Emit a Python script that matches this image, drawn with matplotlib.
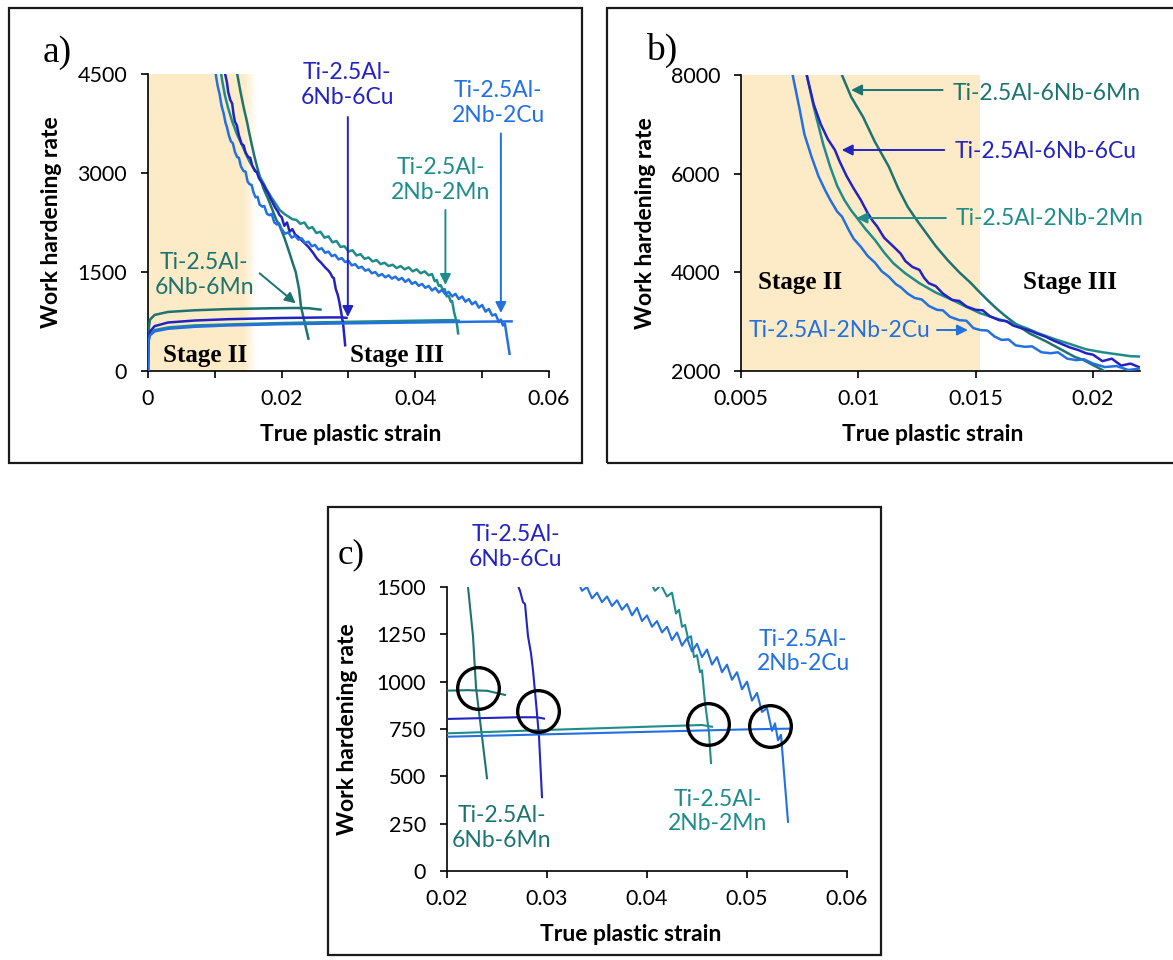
"""
Work hardening rate vs true plastic strain for four Ti-2.5Al alloys,
three panels: a) full range, b) stage II zoom, c) Considere intersections.
Writes out.png.
"""
import numpy as np
import matplotlib
matplotlib.use("Agg")
import matplotlib.pyplot as plt
from matplotlib.patches import Rectangle

W, H = 1173, 960

C_6MN = "#1d7370"
C_2MN = "#1f8c8c"
C_6CU = "#2323c2"
C_2CU = "#2370e0"
SHADE = "#fdebc7"

SANS = ["Lato", "DejaVu Sans"]
SERIF = ["Liberation Serif", "DejaVu Serif"]

# ---- work hardening rate curves (strain, dsigma/deps) ----
eps_h_6mn = [0.0090, 0.0093, 0.0097, 0.0102, 0.0107, 0.0113, 0.0117, 0.0121, 0.0125,
             0.0129, 0.0133, 0.0138, 0.0143, 0.0148, 0.0151, 0.0155, 0.0159, 0.0163,
             0.0168, 0.0173, 0.0180, 0.0187, 0.0192, 0.0196, 0.0200, 0.0204, 0.0208,
             0.0212, 0.0217, 0.0221, 0.0226, 0.0229, 0.0235, 0.0240]
th_h_6mn = [9000, 8000, 7550, 7150, 6650, 6140, 5700, 5330, 5050,
            4790, 4530, 4250, 4000, 3780, 3630, 3440, 3260, 3100,
            2920, 2760, 2600, 2420, 2290, 2220, 2120, 2020, 1900,
            1780, 1620, 1500, 1240, 970, 710, 490]

eps_h_6cu = [0.0076, 0.0078, 0.0081, 0.0084, 0.0087, 0.0090, 0.0092, 0.0095, 0.0098,
             0.0101, 0.0104, 0.0106, 0.0108, 0.0111, 0.0115, 0.0118, 0.0120, 0.0123,
             0.0126, 0.0128, 0.0130, 0.0133, 0.0136, 0.0140, 0.0143, 0.0146, 0.0150,
             0.0153, 0.0156, 0.0160, 0.0163, 0.0166, 0.0170, 0.0173, 0.0176, 0.0180,
             0.0183, 0.0186, 0.0190, 0.0194, 0.0197, 0.0200, 0.0204, 0.0208, 0.0212,
             0.0216, 0.0220, 0.0225, 0.0232, 0.0240, 0.0247, 0.0253, 0.0259, 0.0265,
             0.0270, 0.0273, 0.0276, 0.0278, 0.0281, 0.0284, 0.0286, 0.0289, 0.0292,
             0.0295]
th_h_6cu = [9000, 8000, 7400, 7000, 6700, 6480, 6250, 5950, 5700,
            5470, 5200, 5050, 4930, 4700, 4520, 4380, 4230, 4110,
            4050, 3890, 3780, 3720, 3570, 3440, 3420, 3310, 3240,
            3230, 3110, 3030, 3010, 2920, 2860, 2820, 2760, 2690,
            2620, 2560, 2480, 2420, 2360, 2330, 2200, 2250, 2110,
            2150, 2070, 2030, 1960, 1880, 1790, 1700, 1640, 1570,
            1520, 1480, 1420, 1410, 1240, 1150, 1060, 890, 710,
            390]

eps_h_2mn = [0.0075, 0.0078, 0.0081, 0.0085, 0.0088, 0.0091, 0.0094, 0.0097, 0.0099,
             0.0103, 0.0107, 0.0111, 0.0115, 0.0120, 0.0126, 0.0133, 0.0140, 0.0146,
             0.0152, 0.0159, 0.0166, 0.0172, 0.0177, 0.0184, 0.0190, 0.0197, 0.0204,
             0.0210, 0.0216, 0.0222, 0.0228, 0.0234, 0.0240, 0.0246, 0.0252, 0.0258,
             0.0264, 0.0270, 0.0276, 0.0282, 0.0288, 0.0294, 0.0300, 0.0306, 0.0312,
             0.0318, 0.0324, 0.0330, 0.0336, 0.0342, 0.0348, 0.0354, 0.0360, 0.0366,
             0.0372, 0.0378, 0.0384, 0.0390, 0.0396, 0.0402, 0.0408, 0.0414, 0.0420,
             0.0425, 0.0429, 0.0432, 0.0435, 0.0438, 0.0441, 0.0444, 0.0447, 0.0450,
             0.0453, 0.0455, 0.0458, 0.0462, 0.0464]
th_h_2mn = [9000, 8000, 7350, 6600, 6140, 5750, 5470, 5250, 5130,
            4880, 4660, 4400, 4180, 3980, 3780, 3590, 3440, 3300,
            3170, 3060, 2970, 2860, 2760, 2640, 2550, 2440, 2380,
            2340, 2300, 2290, 2230, 2250, 2160, 2180, 2090, 2110,
            2020, 2040, 1950, 1970, 1880, 1890, 1810, 1830, 1750,
            1770, 1700, 1720, 1660, 1680, 1620, 1640, 1590, 1610,
            1560, 1590, 1540, 1570, 1510, 1540, 1480, 1510, 1450,
            1470, 1360, 1380, 1290, 1300, 1230, 1240, 1130, 1140,
            1050, 1060, 890, 730, 570]

eps_h_2cu = [0.0069, 0.0072, 0.0075, 0.0077, 0.0080, 0.0083, 0.0086, 0.0088, 0.0091,
             0.0093, 0.0096, 0.0098, 0.0101, 0.0104, 0.0107, 0.0110, 0.0113, 0.0116,
             0.0118, 0.0121, 0.0124, 0.0127, 0.0130, 0.01335, 0.0136, 0.0139, 0.0143,
             0.0146, 0.0149, 0.0152, 0.0155, 0.0158, 0.0161, 0.0164, 0.0167, 0.0171,
             0.0174, 0.0178, 0.0182, 0.0185, 0.0189, 0.0193, 0.0196, 0.0200, 0.0205,
             0.0210, 0.0215, 0.0220, 0.0225, 0.0230, 0.0235, 0.0240, 0.0245, 0.0250,
             0.0255, 0.0260, 0.0265, 0.0270, 0.0275, 0.0280, 0.0285, 0.0290, 0.0295,
             0.0300, 0.0305, 0.0310, 0.0315, 0.0320, 0.0325, 0.0330, 0.0335, 0.0340,
             0.0345, 0.0350, 0.0355, 0.0360, 0.0365, 0.0370, 0.0375, 0.0380, 0.0385,
             0.0390, 0.0395, 0.0400, 0.0405, 0.0410, 0.0415, 0.0420, 0.0425, 0.0430,
             0.0435, 0.0440, 0.0445, 0.0450, 0.0455, 0.0460, 0.0465, 0.0470, 0.0475,
             0.0480, 0.0485, 0.0490, 0.0495, 0.0500, 0.0505, 0.0510, 0.0515, 0.0520,
             0.0525, 0.0528, 0.0531, 0.0534, 0.0537, 0.0541]
th_h_2cu = [9000, 8000, 7300, 6800, 6350, 5950, 5650, 5470, 5230,
            5130, 4850, 4680, 4520, 4330, 4200, 4020, 3910, 3760,
            3700, 3570, 3480, 3450, 3320, 3240, 3230, 3100, 3030,
            3020, 2870, 2830, 2820, 2700, 2630, 2640, 2520, 2490,
            2500, 2380, 2360, 2380, 2250, 2220, 2240, 2150, 2080,
            2100, 2020, 2050, 1990, 2010, 1940, 1960, 1890, 1910,
            1840, 1860, 1790, 1810, 1740, 1760, 1690, 1710, 1650,
            1670, 1600, 1620, 1560, 1580, 1520, 1540, 1480, 1500,
            1440, 1470, 1420, 1450, 1400, 1430, 1380, 1410, 1350,
            1390, 1320, 1350, 1290, 1320, 1260, 1290, 1220, 1260,
            1190, 1230, 1160, 1200, 1130, 1170, 1090, 1130, 1050,
            1090, 1010, 1050, 960, 1000, 900, 940, 840, 860,
            740, 780, 690, 720, 520, 260]

# ---- true stress curves (strain, MPa) ----
eps_s_6mn = [0.0, 0.00005, 0.0003, 0.001, 0.003, 0.007, 0.012, 0.018, 0.022, 0.024, 0.0258]
sig_s_6mn = [0, 600, 780, 850, 895, 920, 938, 950, 955, 952, 930]
eps_s_6cu = [0.0, 0.00005, 0.0003, 0.001, 0.003, 0.007, 0.012, 0.020, 0.027, 0.029, 0.0297]
sig_s_6cu = [0, 480, 600, 680, 735, 765, 785, 803, 812, 812, 805]
eps_s_2mn = [0.0, 0.00005, 0.0003, 0.001, 0.003, 0.007, 0.012, 0.020, 0.030, 0.040, 0.0455, 0.0465]
sig_s_2mn = [0, 450, 560, 620, 660, 690, 705, 727, 745, 762, 771, 762]
eps_s_2cu = [0.0, 0.00005, 0.0003, 0.001, 0.003, 0.007, 0.012, 0.020, 0.030, 0.040, 0.050, 0.0544]
sig_s_2cu = [0, 430, 540, 600, 640, 670, 690, 709, 722, 735, 748, 752]

# Considere intersection points circled in c)
circ_eps = [0.0231, 0.0291, 0.0461, 0.0523]
circ_val = [965, 847, 776, 766]

series = [
    (eps_h_6mn, th_h_6mn, eps_s_6mn, sig_s_6mn, C_6MN),
    (eps_h_2mn, th_h_2mn, eps_s_2mn, sig_s_2mn, C_2MN),
    (eps_h_6cu, th_h_6cu, eps_s_6cu, sig_s_6cu, C_6CU),
    (eps_h_2cu, th_h_2cu, eps_s_2cu, sig_s_2cu, C_2CU),
]

plt.rcParams["font.family"] = SANS

fig = plt.figure(figsize=(W / 100, H / 100), dpi=100)


def px_axes(l, t, r, b):
    return fig.add_axes([l / W, 1 - b / H, (r - l) / W, (b - t) / H])


def frame(l, t, r, b):
    fig.add_artist(Rectangle((l / W, 1 - b / H), (r - l) / W, (b - t) / H,
                             transform=fig.transFigure, fill=False,
                             lw=1.6, ec="#1a1a1a", zorder=10))


def style(ax):
    for s in ("top", "right"):
        ax.spines[s].set_visible(False)
    for s in ("left", "bottom"):
        ax.spines[s].set_linewidth(1.2)
    ax.tick_params(which="both", direction="out", length=5, width=1.2,
                   labelsize=15.5)
    ax.tick_params(axis="x", which="both", pad=8)
    ax.tick_params(axis="y", pad=10)
    ax.set_xlabel("True plastic strain", fontsize=16.5, fontweight="bold")
    ax.set_ylabel("Work hardening rate", fontsize=16.5, fontweight="bold")
    ax.xaxis.label.set_va("center")
    ax.yaxis.label.set_va("center")


def arrow(ax, tail, head, color):
    ax.annotate("", xy=head, xytext=tail,
                arrowprops=dict(arrowstyle="-|>", color=color, lw=1.4,
                                mutation_scale=16, shrinkA=0, shrinkB=0),
                annotation_clip=False)


frame(9, 8, 582, 463)
frame(607, 8, 1185, 463)
frame(328, 507, 881, 955)

# ---------------- a) ----------------
ax = px_axes(148, 74, 549, 371)
shade_end, fade = 0.0163, 0.0020
xs = np.linspace(0, shade_end, 200)
rgba = np.zeros((1, xs.size, 4))
rgba[..., :3] = matplotlib.colors.to_rgb(SHADE)
rgba[0, :, 3] = np.clip((shade_end - xs) / fade, 0, 1)
ax.imshow(rgba, extent=[0, shade_end, 0, 4500], aspect="auto", zorder=0)
for eh, th, es, sg, c in series:
    ax.plot(eh, th, color=c, lw=1.8, zorder=3)
    ax.plot(es, sg, color=c, lw=1.8, zorder=3)
ax.set_xlim(0, 0.06)
ax.set_ylim(0, 4500)
ax.set_xticks([0, 0.02, 0.04, 0.06])
ax.set_xticklabels(["0", "0.02", "0.04", "0.06"])
ax.set_xticks([0.01, 0.03, 0.05], minor=True)
ax.set_yticks([0, 1500, 3000, 4500])
style(ax)
ax.xaxis.set_label_coords(0.505, -0.215)
ax.yaxis.set_label_coords(-0.24, 0.5)

lbl = dict(fontsize=16.5, ha="center", va="center", linespacing=1.2)
ax.text(0.0298, 4333, "Ti-2.5Al-\n6Nb-6Cu", color=C_6CU, **lbl)
arrow(ax, (0.0299, 3848), (0.0299, 818), C_6CU)
ax.text(0.0524, 4060, "Ti-2.5Al-\n2Nb-2Cu", color=C_2CU, **lbl)
arrow(ax, (0.0528, 3600), (0.0528, 878), C_2CU)
ax.text(0.0438, 2894, "Ti-2.5Al-\n2Nb-2Mn", color=C_2MN, **lbl)
arrow(ax, (0.0445, 2440), (0.0445, 1303), C_2MN)
ax.text(0.0084, 1454, "Ti-2.5Al-\n6Nb-6Mn", color=C_6MN, **lbl)
arrow(ax, (0.0167, 1480), (0.0221, 1025), C_6MN)
stage = dict(fontsize=18, family=SERIF, fontweight="bold", ha="center", va="center")
ax.text(0.0085, 242, "Stage II", **stage)
ax.text(0.0373, 242, "Stage III", **stage)

# ---------------- b) ----------------
ax = px_axes(741, 75, 1140, 371)
ax.axvspan(0.005, 0.0152, color=SHADE, lw=0, zorder=0)
for eh, th, es, sg, c in series:
    ax.plot(eh, th, color=c, lw=1.8, zorder=3)
ax.set_xlim(0.005, 0.022)
ax.set_ylim(2000, 8000)
ax.set_xticks([0.005, 0.01, 0.015, 0.02])
ax.set_xticklabels(["0.005", "0.01", "0.015", "0.02"])
ax.set_yticks([2000, 4000, 6000, 8000])
style(ax)
ax.xaxis.set_label_coords(0.48, -0.216)
ax.yaxis.set_label_coords(-0.239, 0.5)

lbl_b = dict(fontsize=16.5, ha="left", va="center")
ax.text(0.0140, 7635, "Ti-2.5Al-6Nb-6Mn", color=C_6MN, **lbl_b)
arrow(ax, (0.01359, 7696), (0.00969, 7696), C_6MN)
ax.text(0.0141, 6445, "Ti-2.5Al-6Nb-6Cu", color=C_6CU, **lbl_b)
arrow(ax, (0.01366, 6480), (0.00929, 6480), C_6CU)
ax.text(0.01413, 5101, "Ti-2.5Al-2Nb-2Mn", color=C_2MN, **lbl_b)
arrow(ax, (0.01373, 5101), (0.00992, 5101), C_2MN)
ax.text(0.00532, 2831, "Ti-2.5Al-2Nb-2Cu", color=C_2CU, **lbl_b)
arrow(ax, (0.01335, 2831), (0.01467, 2831), C_2CU)
ax.text(0.0075, 3804, "Stage II", **stage)
ax.text(0.0190, 3804, "Stage III", **stage)

# ---------------- c) ----------------
ax = px_axes(447, 587, 847, 871)
for eh, th, es, sg, c in series:
    ax.plot(eh, th, color=c, lw=1.5, zorder=3)
    ax.plot(es, sg, color=c, lw=1.5, zorder=3)
ax.plot(circ_eps, circ_val, "o", ms=30, mfc="none", mec="black", mew=2.4, zorder=5)
ax.set_xlim(0.02, 0.06)
ax.set_ylim(0, 1500)
ax.set_xticks([0.02, 0.03, 0.04, 0.05, 0.06])
ax.set_xticklabels(["0.02", "0.03", "0.04", "0.05", "0.06"])
ax.set_yticks([0, 250, 500, 750, 1000, 1250, 1500])
style(ax)
ax.xaxis.set_label_coords(0.46, -0.225)
ax.yaxis.set_label_coords(-0.248, 0.5)

ax.text(0.02687, 1711, "Ti-2.5Al-\n6Nb-6Cu", color=C_6CU, **lbl)
ax.text(0.05562, 1158, "Ti-2.5Al-\n2Nb-2Cu", color=C_2CU, **lbl)
ax.text(0.02544, 227, "Ti-2.5Al-\n6Nb-6Mn", color=C_6MN, **lbl)
ax.text(0.04705, 313, "Ti-2.5Al-\n2Nb-2Mn", color=C_2MN, **lbl)

# panel letters
for s, x, y, fs in (("a)", 57, 53, 27), ("b)", 662, 50, 27), ("c)", 351, 555, 25)):
    fig.text(x / W, 1 - y / H, s, fontsize=fs, family=SERIF, ha="center", va="center")

fig.savefig("out.png", dpi=100)
